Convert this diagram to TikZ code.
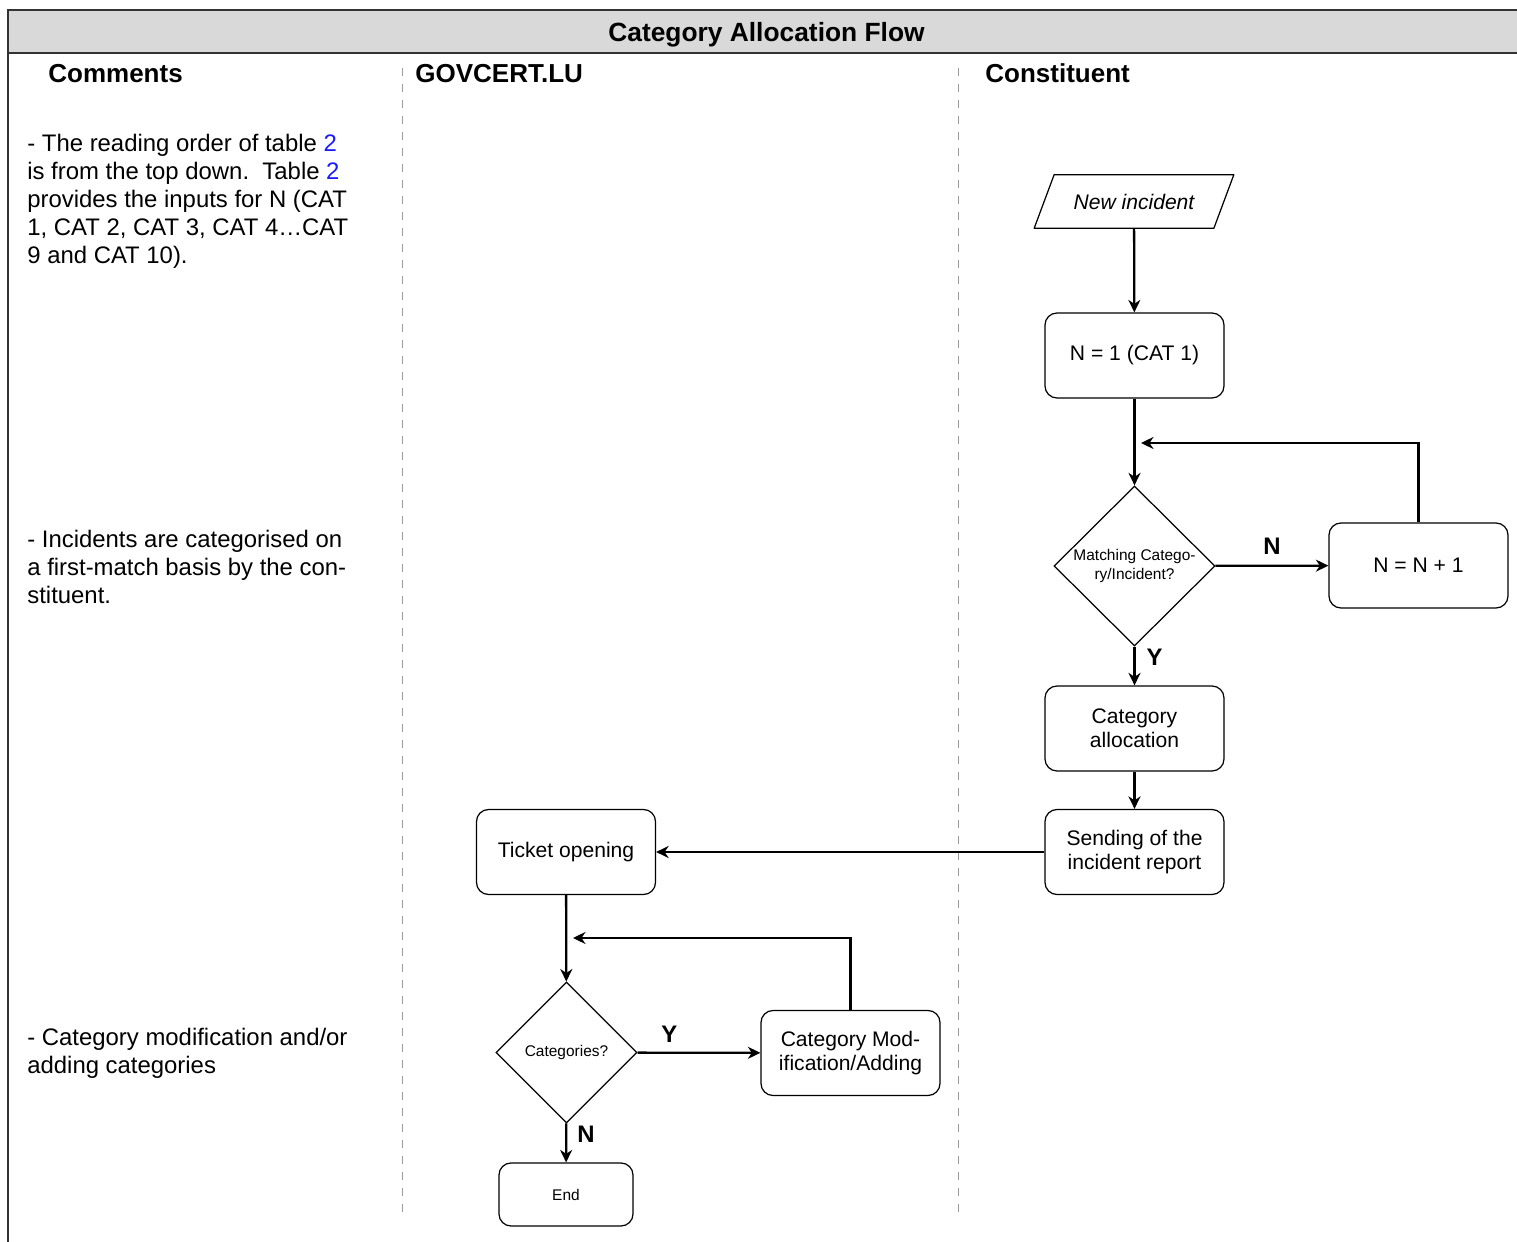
\documentclass[tikz,border=0pt]{standalone}
\usepackage{fontspec}
\setmainfont{Liberation Sans}
\usetikzlibrary{calc,shapes.geometric,arrows.meta}

\definecolor{titlegray}{HTML}{D9D9D9}
\definecolor{framegray}{HTML}{333333}
\definecolor{lanegray}{HTML}{999999}
\definecolor{refblue}{HTML}{1A1AFF}

\begin{document}
\begin{tikzpicture}[x=0.2mm, y=-0.2mm,
		stepbox/.style={rectangle, rounded corners=2.4mm, draw=black, line width=0.7pt, minimum width=35.8mm, minimum height=17mm, align=center, inner sep=1mm, font=\fontsize{12}{13.6}\selectfont},
		decision/.style={diamond, draw=black, line width=0.7pt, inner sep=0pt, align=center, font=\fontsize{8.8}{11.3}\selectfont},
		inputbox/.style={rectangle, minimum width=35.8mm, minimum height=10.6mm, inner sep=0pt, font=\fontsize{12}{13.6}\itshape\selectfont},
		outline/.style={draw=black, line width=0.7pt, line join=round},
		flow/.style={-{Stealth[length=2.5mm, width=2.4mm, inset=0.8mm]}, line width=1.3pt},
		answer/.style={inner sep=0pt, font=\fontsize{13.6}{16}\bfseries\selectfont},
		lanehead/.style={anchor=base west, inner sep=0pt, font=\fontsize{14.8}{17}\bfseries\selectfont},
		remark/.style={anchor=base west, inner sep=0pt, align=left, font=\fontsize{13.6}{15.9}\selectfont},
		laneline/.style={draw=lanegray, line width=0.5pt, dash pattern=on 1.6mm off 1.6mm},
		frameline/.style={draw=framegray, line width=1.2pt}]
		
		\useasboundingbox (0,0) rectangle (1517,1242);
		
		% Frame and title
		\fill[titlegray] (8,10) rectangle (1517,53);
		\draw[frameline] (1517,10) -- (8,10) -- (8,1242);
		\draw[frameline] (8,53) -- (1517,53);
		\node[anchor=base, inner sep=0pt, font=\fontsize{15}{18}\bfseries\selectfont] (title) at (766.5,41.5) {Category Allocation Flow};
		
		% Lanes
		\draw[laneline] (402,68) -- (402,1220);
		\draw[laneline] (958,68) -- (958,1220);
		\node[lanehead] (hcomments) at (48,83) {Comments};
		\node[lanehead] (hgovcert) at (415,83) {GOVCERT.LU};
		\node[lanehead] (hconstituent) at (985,83) {Constituent};
		
		% Comments (base = last line)
		\node[remark] (readorder) at (27,263.5) {- The reading order of table {\color{refblue}2}\\is from the top down.\ \ Table {\color{refblue}2}\\provides the inputs for N (CAT\\1, CAT 2, CAT 3, CAT 4…CAT\\9 and CAT 10).};
		\node[remark] (firstmatch) at (27,603.5) {- Incidents are categorised on\\a first-match basis by the con-\\stituent.};
		\node[remark] (modnote) at (27,1073.5) {- Category modification and/or\\adding categories};
		
		% Constituent
		\node[inputbox] (newinc) at (1134,201.5) {New incident};
		\draw[outline] ($(newinc.north west)+(10,0)$) -- ($(newinc.north east)+(10,0)$) -- ($(newinc.south east)+(-10,0)$) -- ($(newinc.south west)+(-10,0)$) -- cycle;
		\node[stepbox] (catone) at (1134.5,355.5) {N = 1 (CAT 1)};
		\node[decision, minimum width=32.2mm, minimum height=32mm] (match) at (1134.5,566) {Matching Catego-\\ry/Incident?};
		\node[stepbox] (increment) at (1418.5,565.5) {N = N + 1};
		\node[stepbox] (catalloc) at (1134.5,728.5) {Category\\allocation};
		\node[stepbox] (report) at (1134.5,852) {Sending of the\\incident report};
		\coordinate (backone) at (1141,443);
		
		% GOVCERT.LU
		\node[stepbox] (ticket) at (566,852) {Ticket opening};
		\node[decision, minimum width=28.2mm, minimum height=28.2mm] (categories) at (566.5,1052.5) {Categories?};
		\node[stepbox] (modify) at (850.5,1053) {Category Mod-\\ification/Adding};
		\node[stepbox, minimum width=26.8mm, minimum height=12.6mm, font=\fontsize{8.8}{11}\selectfont] (finish) at (566,1194.5) {End};
		\coordinate (backtwo) at (573,938);
		
		% Connect
		\draw[flow] (newinc) -- (catone);
		\draw[flow] (catone) -- (match);
		\draw[flow] (match) -- node[answer, above=2mm] {N} (increment);
		\draw[flow] (increment.north) |- (backone);
		\draw[flow] (match) -- node[answer, right=2.2mm, pos=0.275] {Y} (catalloc);
		\draw[flow] (catalloc) -- (report);
		\draw[flow] (report) -- (ticket);
		\draw[flow] (ticket) -- (categories);
		\draw[flow] (categories) -- node[answer, above=1.9mm, pos=0.26] {Y} (modify);
		\draw[flow] (modify.north) |- (backtwo);
		\draw[flow] (categories) -- node[answer, right=2mm, pos=0.275] {N} (finish);
		
	\end{tikzpicture}
\end{document}
